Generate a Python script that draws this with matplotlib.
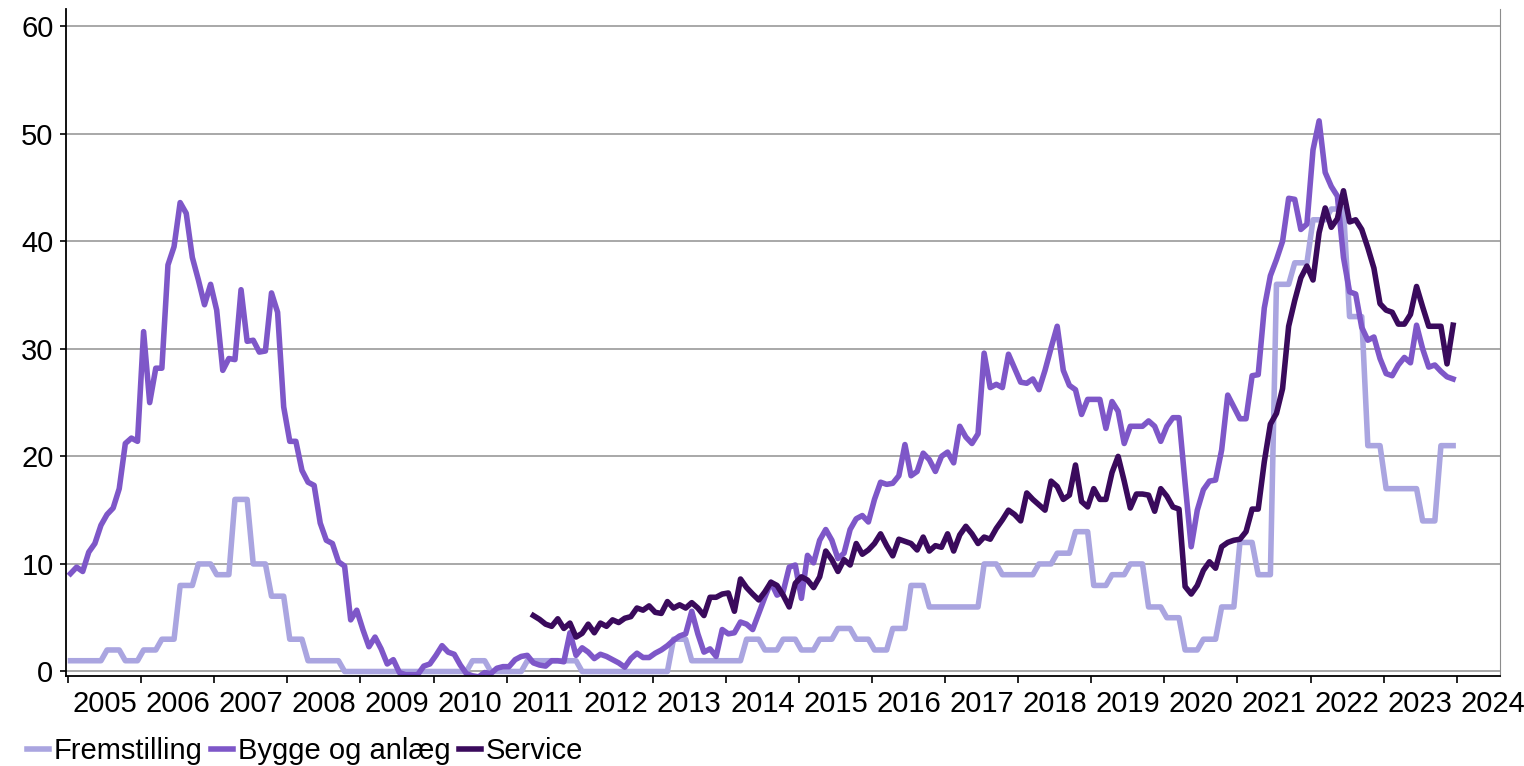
import numpy as np
import matplotlib.pyplot as plt

plt.rcParams['font.family'] = ['Liberation Sans', 'DejaVu Sans']

# monthly series, Jan 2005 - Dec 2023
first_year = 2005
year_labels = [str(y) for y in range(2005, 2025)]

fremstilling = [
    1, 1, 1, 1, 1, 1, 2, 2, 2, 1, 1, 1,            # 2005
    2, 2, 2, 3, 3, 3, 8, 8, 8, 10, 10, 10,         # 2006
    9, 9, 9, 16, 16, 16, 10, 10, 10, 7, 7, 7,      # 2007
    3, 3, 3, 1, 1, 1, 1, 1, 1, 0, 0, 0,            # 2008
    0, 0, 0, 0, 0, 0, 0, 0, 0, 0, 0, 0,            # 2009
    0, 0, 0, 0, 0, 0, 1, 1, 1, 0, 0, 0,            # 2010
    0, 0, 0, 1, 1, 1, 1, 1, 1, 1, 1, 1,            # 2011
    0, 0, 0, 0, 0, 0, 0, 0, 0, 0, 0, 0,            # 2012
    0, 0, 0, 3, 3, 3, 1, 1, 1, 1, 1, 1,            # 2013
    1, 1, 1, 3, 3, 3, 2, 2, 2, 3, 3, 3,            # 2014
    2, 2, 2, 3, 3, 3, 4, 4, 4, 3, 3, 3,            # 2015
    2, 2, 2, 4, 4, 4, 8, 8, 8, 6, 6, 6,            # 2016
    6, 6, 6, 6, 6, 6, 10, 10, 10, 9, 9, 9,         # 2017
    9, 9, 9, 10, 10, 10, 11, 11, 11, 13, 13, 13,   # 2018
    8, 8, 8, 9, 9, 9, 10, 10, 10, 6, 6, 6,         # 2019
    5, 5, 5, 2, 2, 2, 3, 3, 3, 6, 6, 6,            # 2020
    12, 12, 12, 9, 9, 9, 36, 36, 36, 38, 38, 38,   # 2021
    42, 42, 42, 43, 43, 43, 33, 33, 33, 21, 21, 21,  # 2022
    17, 17, 17, 17, 17, 17, 14, 14, 14, 21, 21, 21,  # 2023
]

bygge = [
    9.1, 9.7, 9.3, 11.1, 11.9, 13.6, 14.6, 15.2, 17.0, 21.2, 21.7, 21.4,
    31.6, 25.0, 28.2, 28.2, 37.8, 39.5, 43.6, 42.6, 38.5, 36.4, 34.1, 36.0,
    33.6, 28.0, 29.1, 29.0, 35.5, 30.7, 30.8, 29.7, 29.8, 35.2, 33.4, 24.6,
    21.4, 21.4, 18.7, 17.6, 17.3, 13.8, 12.2, 11.9, 10.2, 9.8, 4.8, 5.7,
    3.9, 2.3, 3.2, 2.1, 0.7, 1.1, -0.1, -0.3, -0.3, -0.3, 0.5, 0.7,
    1.5, 2.4, 1.8, 1.6, 0.6, -0.2, -0.4, -0.5, -0.1, -0.2, 0.3, 0.45,
    0.45, 1.1, 1.4, 1.5, 0.8, 0.6, 0.5, 1.0, 1.0, 0.9, 3.6, 1.5,
    2.2, 1.8, 1.2, 1.6, 1.4, 1.1, 0.8, 0.4, 1.2, 1.7, 1.3, 1.3,
    1.7, 2.0, 2.4, 2.9, 3.3, 3.5, 5.6, 3.5, 1.8, 2.1, 1.4, 3.9,
    3.5, 3.6, 4.6, 4.4, 3.9, 5.4, 6.9, 8.3, 7.1, 7.4, 9.7, 9.9,
    6.8, 10.8, 10.1, 12.2, 13.2, 12.2, 10.5, 11.0, 13.2, 14.2, 14.5, 13.9,
    16.0, 17.6, 17.4, 17.5, 18.2, 21.1, 18.2, 18.6, 20.3, 19.7, 18.6, 20.0,
    20.4, 19.4, 22.8, 21.8, 21.2, 22.1, 29.6, 26.4, 26.7, 26.4, 29.5, 28.2,
    26.9, 26.8, 27.2, 26.2, 28.0, 30.1, 32.1, 28.0, 26.6, 26.2, 23.9, 25.3,
    25.3, 25.3, 22.6, 25.1, 24.2, 21.2, 22.8, 22.8, 22.8, 23.3, 22.8, 21.4,
    22.8, 23.6, 23.6, 17.5, 11.6, 15.0, 16.9, 17.7, 17.8, 20.6, 25.7, 24.6,
    23.5, 23.5, 27.5, 27.6, 33.8, 36.8, 38.3, 40.0, 44.0, 43.9, 41.1, 41.6,
    48.5, 51.2, 46.4, 45.1, 44.2, 38.5, 35.3, 35.1, 32.0, 30.8, 31.1, 29.1,
    27.7, 27.5, 28.5, 29.2, 28.7, 32.2, 30.0, 28.3, 28.5, 27.9, 27.4, 27.2,
]

# service series starts May 2011
service_start = (2011, 5)
service = [
    5.2, 4.85, 4.4, 4.2, 4.9, 4.0, 4.5, 3.2,
    3.55, 4.4, 3.6, 4.5, 4.2, 4.8, 4.55, 4.95, 5.1, 5.9, 5.7, 6.1,
    5.5, 5.4, 6.5, 5.9, 6.2, 5.9, 6.4, 5.9, 5.2, 6.9, 6.9, 7.2,
    7.3, 5.6, 8.6, 7.8, 7.2, 6.65, 7.4, 8.3, 8.0, 7.1, 6.0, 8.2,
    8.8, 8.5, 7.8, 8.8, 11.2, 10.4, 9.3, 10.4, 9.9, 11.9, 10.9, 11.3,
    11.9, 12.8, 11.7, 10.75, 12.3, 12.1, 11.9, 11.3, 12.5, 11.2, 11.7, 11.55,
    12.8, 11.2, 12.7, 13.5, 12.8, 11.9, 12.5, 12.3, 13.3, 14.1, 15.0, 14.6,
    14.0, 16.6, 16.0, 15.5, 15.0, 17.7, 17.2, 16.0, 16.4, 19.2, 15.8, 15.3,
    17.0, 16.0, 16.0, 18.5, 20.0, 17.7, 15.2, 16.5, 16.5, 16.4, 14.9, 17.0,
    16.3, 15.3, 15.1, 7.9, 7.2, 8.0, 9.4, 10.2, 9.6, 11.6, 12.0, 12.2,
    12.3, 13.0, 15.1, 15.1, 19.5, 23.0, 24.0, 26.3, 32.1, 34.5, 36.6, 37.7,
    36.4, 40.8, 43.1, 41.3, 42.1, 44.7, 41.8, 42.0, 41.1, 39.4, 37.5, 34.2,
    33.6, 33.4, 32.3, 32.3, 33.2, 35.8, 33.9, 32.1, 32.1, 32.1, 28.6, 32.2,
]

colors = ['#aaa5e0', '#7e57c8', '#3a0a5c']
names = ['Fremstilling', 'Bygge og anlæg', 'Service']

months = np.arange(len(fremstilling))
s0 = (service_start[0] - first_year) * 12 + service_start[1] - 1
serv_months = np.arange(len(service)) + s0

W, H = 1524, 766
fig = plt.figure(figsize=(W / 100, H / 100), dpi=100)
ax = fig.add_axes([66 / W, 1 - 676 / H, (1500 - 66) / W, (676 - 9) / H])

lw = 4.0
ax.plot(months, fremstilling, color=colors[0], lw=lw, label=names[0])
ax.plot(months, bygge, color=colors[1], lw=lw, label=names[1])
ax.plot(serv_months, service, color=colors[2], lw=lw, label=names[2])

ax.set_ylim(-0.42, 61.6)
ax.set_xlim(-0.74, 234.7)
ax.set_yticks(range(0, 61, 10))
ax.yaxis.grid(True, color='#999999', lw=1.2)
ax.set_axisbelow(True)

# year boundaries as ticks, year labels in between
shift = -0.4
n_years = len(year_labels)
ax.set_xticks([12 * k + shift for k in range(n_years)])
ax.set_xticklabels([])
ax.set_xticks([12 * k + 6 + shift for k in range(n_years)], year_labels, minor=True)
ax.tick_params(axis='x', which='major', direction='out', length=5, width=1.2)
ax.tick_params(axis='x', which='minor', length=0, pad=10, labelsize=21)
ax.tick_params(axis='y', direction='out', length=4, width=1.2, pad=5, labelsize=21)

ax.spines['top'].set_visible(False)
ax.spines['right'].set_color('#8c8c8c')
ax.spines['left'].set_linewidth(1.3)
ax.spines['bottom'].set_linewidth(1.3)

fig.legend(loc='center left', bbox_to_anchor=(27 / W, 1 - 751 / H), ncol=3,
           frameon=False, fontsize=21, handlelength=0.76, handletextpad=0.15,
           columnspacing=0.3, borderpad=0, borderaxespad=0)

fig.savefig('out.png', dpi=100)
